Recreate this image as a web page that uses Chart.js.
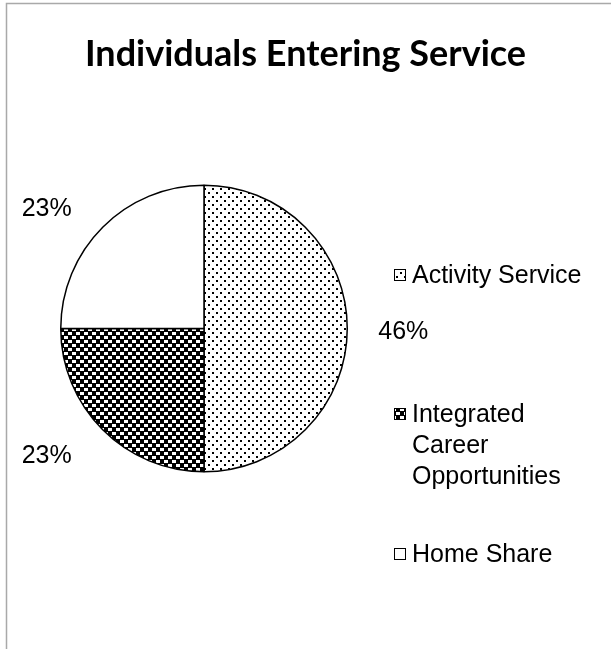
<!DOCTYPE html>
<html>
<head>
<meta charset="utf-8">
<script src="https://cdn.jsdelivr.net/npm/chart.js@4.4.0/dist/chart.umd.min.js"></script>
<style>
  body { margin: 0; background: #fff; }
  #wrap { width: 611px; height: 649px; }
</style>
</head>
<body>
<div id="wrap"><canvas id="servicePie"></canvas></div>
<script>
const chartTitle = 'Individuals Entering Service';
const categories = ['Activity Service', 'Integrated Career Opportunities', 'Home Share'];
const legendLines = [['Activity Service'], ['Integrated', 'Career', 'Opportunities'], ['Home Share']];
const shares = [46, 23, 23];

// layout bits for the hand-drawn title / legend / labels
const titleY = 66;
const legendBoxX = 394, legendTextX = 412, legendLineHeight = 31;
const legendBaselines = [283, 422, 562];
const labelGapX = 31, labelGapY = 31, labelNudgeY = 4;
const labelFont = '25px "Liberation Sans", Arial, sans-serif';

// small tiles for the hatch-style fills
function makeTile(draw) {
  const c = document.createElement('canvas');
  c.width = 8; c.height = 8;
  const g = c.getContext('2d');
  draw(g);
  return document.createElement('canvas').getContext('2d').createPattern(c, 'repeat');
}

const dotFill = makeTile(g => {
  g.fillStyle = '#fff'; g.fillRect(0, 0, 8, 8);
  g.fillStyle = '#000';
  g.fillRect(0, 0, 2, 2);
  g.fillRect(4, 4, 2, 2);
});

const checkFill = makeTile(g => {
  g.fillStyle = '#000'; g.fillRect(0, 0, 8, 8);
  g.fillStyle = '#fff';
  g.fillRect(0, 0, 4, 3);
  g.fillRect(4, 4, 4, 3);
});

const fills = [dotFill, checkFill, '#fff'];

const extras = {
  id: 'extras',
  beforeDraw(chart) {
    const ctx = chart.ctx;
    ctx.save();
    ctx.strokeStyle = '#a9a9a9';
    ctx.lineWidth = 1.5;
    ctx.beginPath();
    ctx.moveTo(6.5, chart.height); ctx.lineTo(6.5, 3.5); ctx.lineTo(chart.width, 3.5);
    ctx.stroke();
    ctx.restore();
  },
  afterDatasetsDraw(chart) {
    const ctx = chart.ctx;
    const meta = chart.getDatasetMeta(0);
    ctx.save();
    ctx.fillStyle = '#000';

    // percentage labels outside each slice
    ctx.font = labelFont;
    ctx.textBaseline = 'middle';
    meta.data.forEach((arc, i) => {
      const p = arc.getProps(['x', 'y', 'startAngle', 'endAngle', 'outerRadius'], true);
      const mid = (p.startAngle + p.endAngle) / 2;
      const c = Math.cos(mid), s = Math.sin(mid);
      const side = c > 0.2 ? 1 : c < -0.2 ? -1 : 0;
      ctx.textAlign = side > 0 ? 'left' : side < 0 ? 'right' : 'center';
      const lx = p.x + c * p.outerRadius + side * labelGapX;
      const ly = p.y + s * (p.outerRadius + labelGapY) + labelNudgeY;
      ctx.fillText(shares[i] + '%', lx, ly);
    });

    // title, centred on the whole chart
    ctx.font = 'bold 36px Lato, "Open Sans", sans-serif';
    ctx.textAlign = 'center';
    ctx.textBaseline = 'alphabetic';
    ctx.fillText(chartTitle, chart.width / 2, titleY);

    // legend
    ctx.font = labelFont;
    ctx.textAlign = 'left';
    categories.forEach((name, i) => {
      const base = legendBaselines[i];
      ctx.fillStyle = fills[i];
      ctx.fillRect(legendBoxX, base - 14, 12, 12);
      ctx.strokeStyle = '#000';
      ctx.lineWidth = 1;
      ctx.strokeRect(legendBoxX + 0.5, base - 13.5, 11, 11);
      ctx.fillStyle = '#000';
      legendLines[i].forEach((line, j) => {
        ctx.fillText(line, legendTextX, base + j * legendLineHeight);
      });
    });
    ctx.restore();
  }
};

new Chart(document.getElementById('servicePie'), {
  type: 'pie',
  data: {
    labels: categories,
    datasets: [{
      data: shares,
      backgroundColor: fills,
      borderColor: '#000',
      borderWidth: 1.5
    }]
  },
  options: {
    responsive: true,
    maintainAspectRatio: false,
    animation: false,
    layout: { padding: { left: 60, right: 263, top: 184, bottom: 176 } },
    plugins: {
      legend: { display: false },
      title: { display: false },
      tooltip: { enabled: false }
    }
  },
  plugins: [extras]
});
</script>
</body>
</html>
